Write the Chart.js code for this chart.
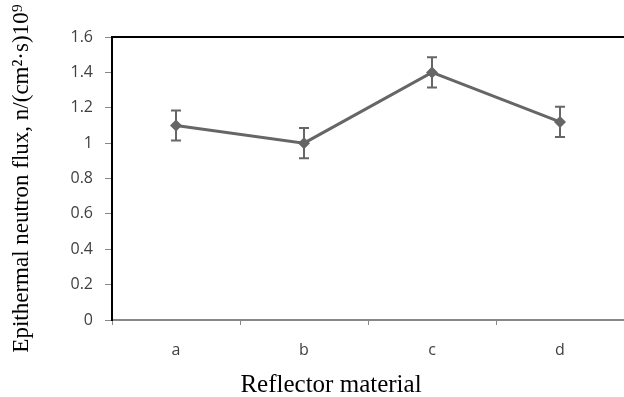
<!DOCTYPE html>
<html>
<head>
<meta charset="utf-8">
<style>
  html, body { margin: 0; padding: 0; background: #fff; }
  #wrap { width: 624px; height: 397px; }
</style>
<script src="https://cdn.jsdelivr.net/npm/chart.js@4.4.0/dist/chart.umd.min.js"></script>
</head>
<body>
<div id="wrap"><canvas id="grafico" width="624" height="397"></canvas></div>
<script>
// datos
const materiales = ["a", "b", "c", "d"];
const flujo = [1.10, 1.00, 1.40, 1.12];
const errores = [0.085, 0.085, 0.085, 0.085];
const ticksY = [0, 0.2, 0.4, 0.6, 0.8, 1, 1.2, 1.4, 1.6];

const tituloY = "Epithermal neutron flux, n/(cm\u00B2\u00B7s)10\u2079";
const tituloX = "Reflector material";

// barras de error + borde superior + titulo del eje x
const extras = {
    id: "extras",
    afterDatasetsDraw(chart) {
        const ctx = chart.ctx;
        const x = chart.scales.x;
        const y = chart.scales.y;
        ctx.save();
        ctx.strokeStyle = "#666";
        ctx.lineWidth = 2;
        flujo.forEach(function(v, i) {
            const px = x.getPixelForValue(i);
            const top = y.getPixelForValue(v + errores[i]);
            const bot = y.getPixelForValue(v - errores[i]);
            ctx.beginPath();
            ctx.moveTo(px, top); ctx.lineTo(px, bot);
            ctx.moveTo(px - 5, top); ctx.lineTo(px + 5, top);
            ctx.moveTo(px - 5, bot); ctx.lineTo(px + 5, bot);
            ctx.stroke();
        });
        const a = chart.chartArea;
        ctx.strokeStyle = "#000";
        ctx.lineWidth = 2;
        ctx.beginPath();
        ctx.moveTo(a.left, a.top);
        ctx.lineTo(a.right, a.top);
        ctx.stroke();

        ctx.fillStyle = "#000";
        ctx.font = "25px 'Liberation Serif'";
        ctx.textAlign = "center";
        ctx.textBaseline = "alphabetic";
        ctx.fillText(tituloX, 331, 392);
        ctx.restore();
    }
};

new Chart(document.getElementById("grafico").getContext("2d"), {
    type: "line",
    data: {
        labels: materiales,
        datasets: [{
            data: flujo,
            borderColor: "#666",
            backgroundColor: "#666",
            borderWidth: 3,
            pointStyle: "rectRot",
            pointRadius: 6,
            pointBorderWidth: 0,
            tension: 0
        }]
    },
    options: {
        responsive: false,
        animation: false,
        layout: { autoPadding: false, padding: { top: 37, right: 0, bottom: 0, left: 0 } },
        plugins: { legend: { display: false }, tooltip: { enabled: false } },
        scales: {
            x: {
                offset: true,
                afterFit: function(s) { s.height = 77; },
                grid: { offset: true, drawOnChartArea: false, tickLength: 5, color: "#888", lineWidth: 1 },
                border: { display: true, color: "#888", width: 2 },
                ticks: { padding: 16, color: "#404040", font: { family: "'Open Sans'", size: 16 } }
            },
            y: {
                min: 0,
                max: 1.6,
                afterFit: function(s) { s.width = 112; },
                afterBuildTicks: function(s) { s.ticks = ticksY.map(function(v) { return { value: v }; }); },
                grid: { drawOnChartArea: false, tickLength: 7, color: "#888", lineWidth: 1 },
                border: { display: true, color: "#000", width: 2 },
                ticks: {
                    padding: 12,
                    color: "#404040",
                    font: { family: "'Open Sans'", size: 16 },
                    callback: function(v) { return String(Math.round(v * 10) / 10); }
                },
                title: {
                    display: true,
                    text: tituloY,
                    color: "#000",
                    font: { family: "'Liberation Serif'", size: 23 },
                    padding: { top: 8, bottom: 0 }
                }
            }
        }
    },
    plugins: [extras]
});
</script>
</body>
</html>
